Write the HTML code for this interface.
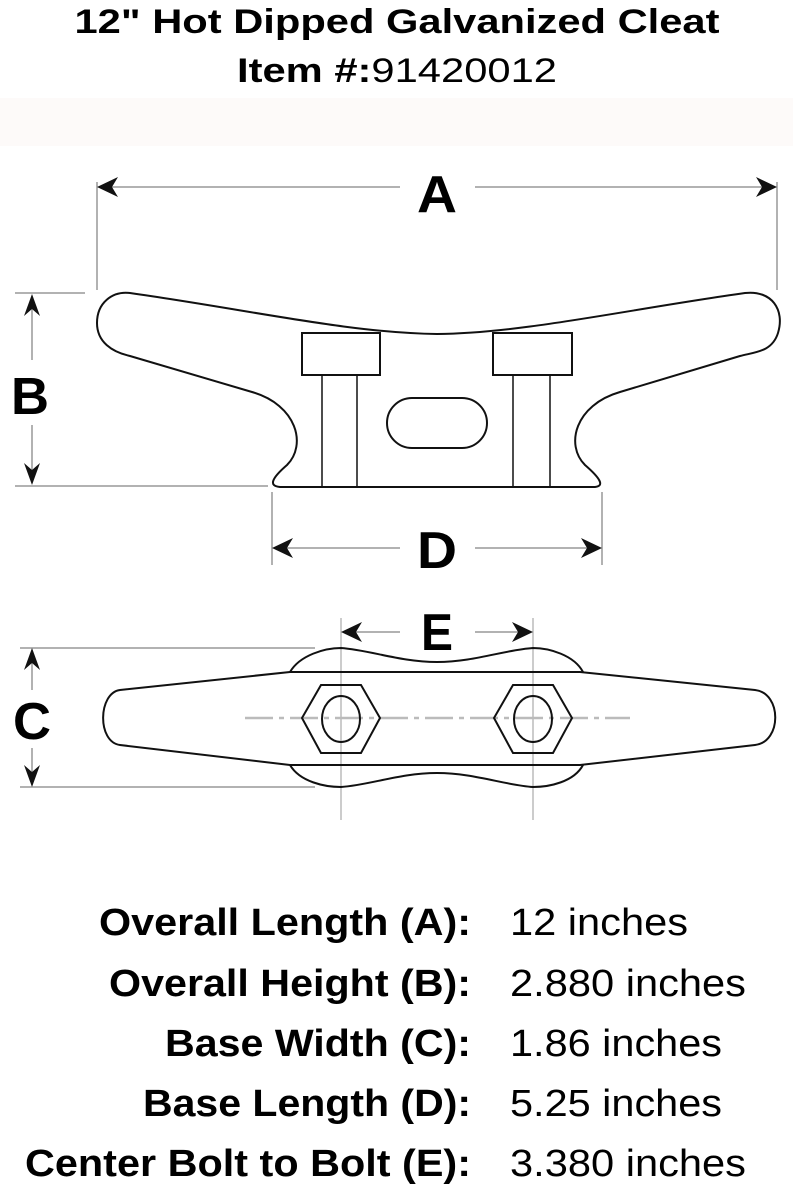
<!DOCTYPE html>
<html><head><meta charset="utf-8"><style>
html,body{margin:0;padding:0;background:#fff}
svg{display:block}
text{font-family:"Liberation Sans",Arial,sans-serif}
</style></head><body>
<svg width="793" height="1188" viewBox="0 0 793 1188" xmlns="http://www.w3.org/2000/svg">
<rect x="0" y="98" width="793" height="48" fill="#fdfaf9"/>
<text x="397" y="33" text-anchor="middle" font-size="34" font-weight="bold" textLength="645" lengthAdjust="spacingAndGlyphs">12" Hot Dipped Galvanized Cleat</text>
<text x="237" y="82" font-size="34" textLength="320" lengthAdjust="spacingAndGlyphs"><tspan font-weight="bold">Item #:</tspan>91420012</text>

<g stroke="#999" stroke-width="1.5" fill="none">
<line x1="97" y1="182" x2="97" y2="290"/><line x1="777" y1="182" x2="777" y2="290"/>
<line x1="105" y1="187" x2="400" y2="187"/><line x1="475" y1="187" x2="770" y2="187"/>
<line x1="15" y1="293" x2="85" y2="293"/><line x1="15" y1="486" x2="268" y2="486"/>
<line x1="32" y1="300" x2="32" y2="360"/><line x1="32" y1="425" x2="32" y2="480"/>
<line x1="272" y1="492" x2="272" y2="565"/><line x1="602" y1="492" x2="602" y2="565"/>
<line x1="280" y1="548" x2="400" y2="548"/><line x1="475" y1="548" x2="595" y2="548"/>
<line x1="20" y1="648" x2="315" y2="648"/><line x1="20" y1="787" x2="315" y2="787"/>
<line x1="32" y1="655" x2="32" y2="690"/><line x1="32" y1="748" x2="32" y2="782"/>
<line x1="341" y1="618" x2="341" y2="820" stroke-width="1"/><line x1="533" y1="618" x2="533" y2="820" stroke-width="1"/>
<line x1="348" y1="632" x2="400" y2="632"/><line x1="475" y1="632" x2="526" y2="632"/>
<line x1="245" y1="718" x2="630" y2="718" stroke-dasharray="28,6,5,6" stroke="#bbb" stroke-width="2.5"/>
</g>
<g fill="#111">
<path d="M97 187 L118 177 L112 187 L118 197 Z"/>
<path d="M777 187 L756 177 L762 187 L756 197 Z"/>
<path d="M32 294 L24 316 L32 309 L40 316 Z"/>
<path d="M32 485 L24 463 L32 470 L40 463 Z"/>
<path d="M272 548 L293 538 L287 548 L293 558 Z"/>
<path d="M602 548 L581 538 L587 548 L581 558 Z"/>
<path d="M32 648 L24 670 L32 663 L40 670 Z"/>
<path d="M32 787 L24 765 L32 772 L40 765 Z"/>
<path d="M341 632 L362 622 L356 632 L362 642 Z"/>
<path d="M533 632 L512 622 L518 632 L512 642 Z"/>
</g>
<g font-weight="bold" font-size="52" text-anchor="middle">
<text x="437" y="212" textLength="40" lengthAdjust="spacingAndGlyphs">A</text>
<text x="30" y="414" textLength="38" lengthAdjust="spacingAndGlyphs">B</text>
<text x="437" y="568" textLength="40" lengthAdjust="spacingAndGlyphs">D</text>
<text x="32" y="739" textLength="38" lengthAdjust="spacingAndGlyphs">C</text>
<text x="437" y="650" textLength="32" lengthAdjust="spacingAndGlyphs">E</text>
</g>

<g stroke="#111" stroke-width="2" fill="none">
<path d="M130 293 C250 310 350 333 437 334 C524 333 624 310 745 293 C772 290 785 310 778 333 C772 352 755 352 740 356 L620 392 C575 405 565 445 585 465 C600 478 605 486 595 487 L280 487 C268 486 272 478 287 465 C307 445 297 405 252 392 L130 356 C112 352 97 342 97 323 C97 303 112 291 130 293 Z"/>
<rect x="302" y="333" width="78" height="42"/>
<rect x="493" y="333" width="79" height="42"/>
<line x1="322" y1="375" x2="322" y2="486" stroke-width="1.5"/><line x1="357" y1="375" x2="357" y2="486" stroke-width="1.5"/>
<line x1="513" y1="375" x2="513" y2="486" stroke-width="1.5"/><line x1="550" y1="375" x2="550" y2="486" stroke-width="1.5"/>
<rect x="387" y="398" width="100" height="50" rx="25"/>
</g>

<g stroke="#111" stroke-width="2" fill="none">
<path d="M290 672 L120 690 C98 693 97 742 120 745 L290 765 L580 765 L755 745 C782 742 782 693 755 690 L580 672 Z"/>
<path d="M290 672 C300 655 325 648 341 648 C370 650 400 662 437 662 C474 662 504 650 533 648 C549 648 574 655 583 672"/>
<path d="M290 765 C300 782 325 787 341 787 C370 785 400 773 437 773 C474 773 504 785 533 787 C549 787 574 782 583 765"/>
<polygon points="321,685 361,685 380,718 361,753 321,753 302,718"/>
<polygon points="513,685 553,685 572,718 553,753 513,753 494,718"/>
<ellipse cx="341" cy="719" rx="19" ry="23"/>
<ellipse cx="533" cy="719" rx="19" ry="23"/>
</g>

<g font-size="38">
<g font-weight="bold" text-anchor="end">
<text x="471" y="935" textLength="372" lengthAdjust="spacingAndGlyphs">Overall Length (A):</text>
<text x="471" y="996" textLength="362" lengthAdjust="spacingAndGlyphs">Overall Height (B):</text>
<text x="471" y="1056" textLength="306" lengthAdjust="spacingAndGlyphs">Base Width (C):</text>
<text x="471" y="1116" textLength="328" lengthAdjust="spacingAndGlyphs">Base Length (D):</text>
<text x="471" y="1176" textLength="446" lengthAdjust="spacingAndGlyphs">Center Bolt to Bolt (E):</text>
</g>
<text x="510" y="935" textLength="178" lengthAdjust="spacingAndGlyphs">12 inches</text>
<text x="510" y="996" textLength="236" lengthAdjust="spacingAndGlyphs">2.880 inches</text>
<text x="510" y="1056" textLength="212" lengthAdjust="spacingAndGlyphs">1.86 inches</text>
<text x="510" y="1116" textLength="212" lengthAdjust="spacingAndGlyphs">5.25 inches</text>
<text x="510" y="1176" textLength="236" lengthAdjust="spacingAndGlyphs">3.380 inches</text>
</g>
</svg>
</body></html>
